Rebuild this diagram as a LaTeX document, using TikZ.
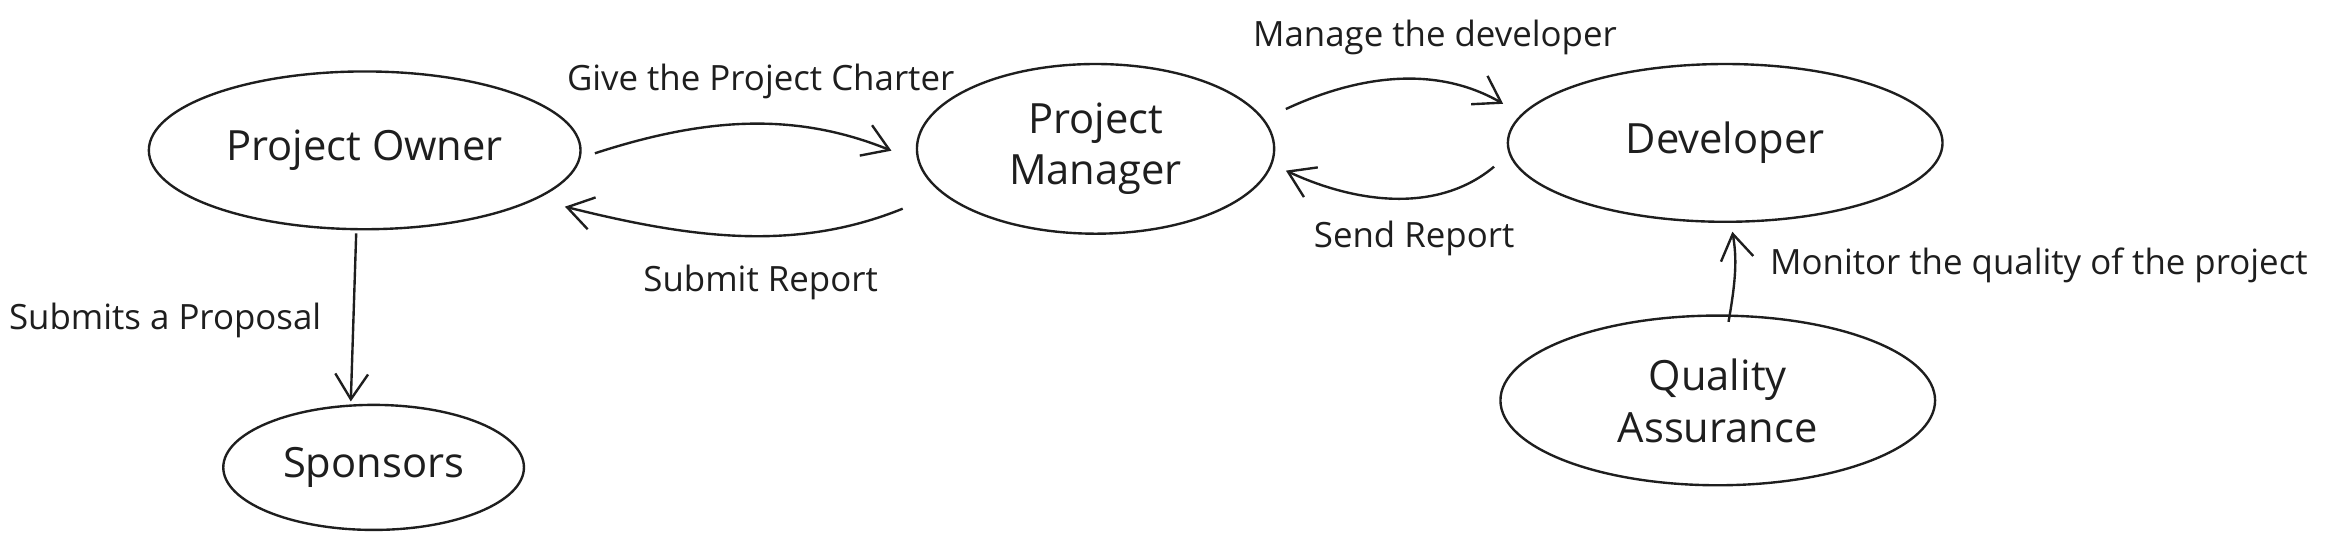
\documentclass[tikz,border=0pt]{standalone}
\usepackage{fontspec}
\setmainfont{Open Sans}
\usetikzlibrary{arrows.meta,shapes.geometric}
\definecolor{ink}{HTML}{1E1E1E}
\begin{document}
\begin{tikzpicture}[x=1pt,y=1pt,
  ent/.style={ellipse, draw=ink, line width=1.6pt, inner sep=0pt, align=center,
    text=ink, font=\fontsize{28}{34}\selectfont},
  lbl/.style={inner sep=0pt, text=ink, font=\fontsize{23.4}{28}\selectfont},
  conn/.style={draw=ink, line width=1.6pt,
    -{Straight Barb[length=17pt,width=22pt,line width=1.6pt]}}]
\fill[white] (0,0) rectangle (1568,-367);
\useasboundingbox (0,0) rectangle (1568,-367);

% entities
\node[ent, minimum width=290pt, minimum height=106pt] (po) at (245,-101) {Project Owner};
\node[ent, minimum width=240pt, minimum height=114pt] (pm) at (736,-100) {Project\\Manager};
\node[ent, minimum width=292pt, minimum height=106pt] (dev) at (1159,-96) {Developer};
\node[ent, minimum width=202pt, minimum height=84pt] (sp) at (251,-314) {Sponsors};
\node[ent, minimum width=292pt, minimum height=114pt, font=\fontsize{28}{35}\selectfont] (qa) at (1154,-269) {Quality\\Assurance};

% labels
\node[lbl] (lgive) at (511,-55) {Give the Project Charter};
\node[lbl] (lsubmit) at (511,-190) {Submit Report};
\node[lbl] (lmanage) at (964,-25) {Manage the developer};
\node[lbl] (lsend) at (950,-160) {Send Report};
\node[lbl, anchor=east] (lprop) at (216,-215) {Submits a Proposal};
\node[lbl, anchor=west] (lmon) at (1189,-178) {Monitor the quality of the project};

% connectors
\draw[conn, shorten <=10pt, shorten >=19pt] (po.-2) to[out=18,in=158] (pm.184.5);
\draw[conn, shorten <=28pt, shorten >=20pt] (pm.196) to[out=202,in=-14] (po.-16);
\draw[conn, shorten <=16pt, shorten >=14pt] (pm.10.6) to[out=25,in=150] (dev.172.9);
\draw[conn, shorten <=13pt, shorten >=10pt] (dev.183.6) to[out=220,in=-25] (pm.-5.8);
\draw[conn, shorten <=2pt, shorten >=2pt] (po.-96) -- (sp.110);
\draw[conn, shorten <=-5pt, shorten >=6pt] (qa.82) to[out=80,in=-80] (dev.-86);
\end{tikzpicture}
\end{document}
